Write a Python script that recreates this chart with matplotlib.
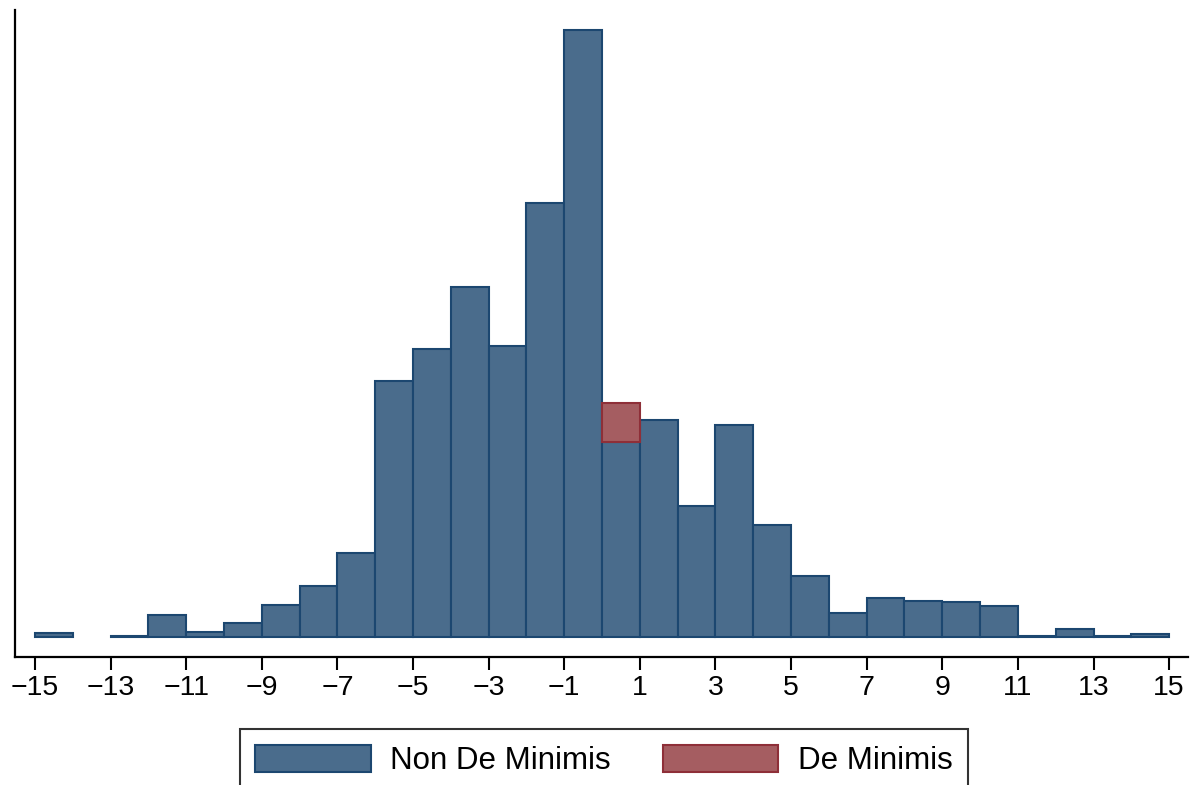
import matplotlib.pyplot as plt
import numpy as np

plt.rcParams['font.family'] = ['Liberation Sans', 'DejaVu Sans']

# bin left edges (width 1) and percent of observations
bin_left = list(range(-15, 15))
non_de_minimis = [0.11, 0.0, 0.04, 0.61, 0.14, 0.39, 0.89, 1.42, 2.34, 7.14,
                  8.03, 9.76, 8.12, 12.11, 16.93, 5.44, 6.05, 3.65, 5.91, 3.12,
                  1.70, 0.67, 1.09, 1.00, 0.98, 0.86, 0.03, 0.22, 0.03, 0.08]
de_minimis = [0.0] * 15 + [1.09] + [0.0] * 14
xticks = list(range(-15, 16, 2))

blue_fill, blue_edge = '#4a6c8c', '#1c4770'
red_fill, red_edge = '#a55d61', '#8e2f38'

fig = plt.figure(figsize=(11.97, 7.85), dpi=100)
ax = fig.add_axes([0.0125, 0.1631, 0.98, 0.8242])

x = np.array(bin_left)
nd = np.array(non_de_minimis)
dm = np.array(de_minimis)

m1 = nd > 0
ax.bar(x[m1], nd[m1], width=1, align='edge', color=blue_fill, edgecolor=blue_edge,
       linewidth=1.5, label='Non De Minimis')
m2 = dm > 0
ax.bar(x[m2], dm[m2], bottom=nd[m2], width=1, align='edge', color=red_fill,
       edgecolor=red_edge, linewidth=1.5, label='De Minimis')

ax.set_xlim(-15.53, 15.50)
ax.set_ylim(-0.558, 17.49)
ax.set_xticks(xticks)
ax.set_xticklabels([str(t).replace('-', '\u2212') for t in xticks])
ax.set_yticks([])
ax.tick_params(axis='x', length=9, width=1.5, labelsize=20.5, pad=4)

for s in ['top', 'right']:
    ax.spines[s].set_visible(False)
for s in ['left', 'bottom']:
    ax.spines[s].set_linewidth(1.6)

leg = fig.legend(loc='upper center', bbox_to_anchor=(0.5045, 0.0713), ncol=2,
                 fontsize=22.5, frameon=True, fancybox=False, edgecolor='black',
                 handlelength=3.7, handleheight=0.95, handletextpad=0.62,
                 columnspacing=1.65, borderpad=0.5, borderaxespad=0)
leg.get_frame().set_linewidth(1.5)

plt.savefig('out.png', dpi=100)
